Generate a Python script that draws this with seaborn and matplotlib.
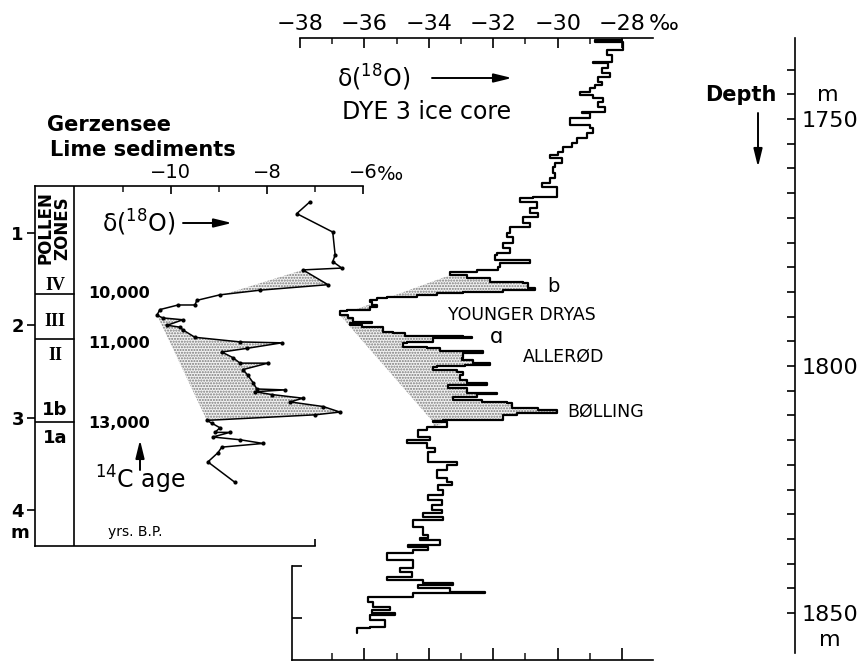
import numpy as np
import matplotlib
matplotlib.use("Agg")
import matplotlib.pyplot as plt
from matplotlib.ticker import FixedLocator
import seaborn as sns

sns.set_theme(style="white")
plt.rcParams["font.family"] = ["DejaVu Sans"]
plt.rcParams["mathtext.default"] = "regular"
plt.rcParams["hatch.linewidth"] = 1.0
plt.rcParams["text.color"] = "black"

W, H = 866, 662

# Gerzensee lime sediments: depth (m) and d18O (permil)
gerz_depth = [0.66, 0.79, 0.99, 1.24, 1.31, 1.38, 1.40, 1.56, 1.62, 1.67, 1.73, 1.78, 1.78,
              1.83, 1.89, 1.92, 1.94, 2.00, 2.02, 2.05, 2.13, 2.18, 2.19, 2.25, 2.29, 2.35,
              2.41, 2.41, 2.48, 2.54, 2.62, 2.69, 2.70, 2.72, 2.75, 2.79, 2.83, 2.88, 2.94,
              2.97, 3.03, 3.06, 3.11, 3.16, 3.16, 3.21, 3.24, 3.28, 3.32, 3.38, 3.48, 3.70]
gerz_d18o = [-7.10, -7.38, -6.63, -6.58, -6.63, -6.44, -7.25, -6.73, -8.15, -8.98, -9.46, -9.50, -9.85,
             -10.23, -10.29, -10.17, -9.75, -10.08, -9.81, -9.75, -9.50, -8.56, -7.69, -8.42, -8.94, -8.71,
             -8.56, -7.98, -8.50, -8.40, -8.29, -8.21, -7.63, -8.25, -7.90, -7.25, -7.52, -6.83, -6.48,
             -7.00, -9.25, -9.15, -8.98, -9.08, -8.77, -9.13, -8.56, -8.08, -8.94, -9.02, -9.23, -8.67]
# straight reference line through the Younger Dryas minimum (shading)
gerz_base_depth = [1.40, 1.89, 3.03]
gerz_base_d18o = [-7.25, -10.29, -9.25]

# DYE 3 ice core: depth (m) and d18O (permil)
dye_depth = [1734.0, 1734.4, 1736.0, 1737.0, 1738.5, 1738.7, 1739.7, 1740.7, 1741.5, 1742.5,
             1743.1, 1743.7, 1744.5, 1745.1, 1745.7, 1746.6, 1747.6, 1748.6, 1748.8, 1749.8,
             1751.2, 1751.8, 1752.8, 1753.8, 1754.9, 1755.7, 1756.7, 1757.3, 1757.9, 1758.9,
             1759.7, 1760.9, 1761.9, 1763.0, 1763.8, 1765.8, 1766.0, 1766.8, 1768.0, 1769.0,
             1769.8, 1771.1, 1771.9, 1773.1, 1773.9, 1775.1, 1776.1, 1777.1, 1777.5, 1778.5,
             1779.1, 1780.0, 1780.6, 1781.0, 1781.6, 1782.2, 1783.0, 1783.2, 1784.2, 1784.6,
             1785.0, 1785.2, 1785.6, 1786.0, 1786.2, 1786.6, 1787.0, 1787.7, 1788.1, 1788.7,
             1788.9, 1789.7, 1790.3, 1791.1, 1791.3, 1791.7, 1792.1, 1793.1, 1793.3, 1793.9,
             1794.1, 1794.3, 1795.1, 1795.3, 1796.2, 1796.4, 1797.0, 1797.4, 1798.4, 1798.8,
             1799.4, 1799.8, 1800.0, 1800.2, 1800.8, 1801.2, 1801.8, 1802.8, 1803.4, 1803.8,
             1804.5, 1805.5, 1805.7, 1806.3, 1806.9, 1807.3, 1807.5, 1808.5, 1808.9, 1809.5,
             1809.9, 1810.9, 1811.1, 1811.3, 1812.3, 1813.0, 1814.4, 1815.0, 1815.6, 1816.6,
             1817.4, 1819.4, 1820.0, 1821.1, 1822.7, 1823.5, 1824.1, 1825.1, 1826.1, 1827.1,
             1828.1, 1829.1, 1829.8, 1830.6, 1831.2, 1832.6, 1834.2, 1834.8, 1835.2, 1836.2,
             1836.6, 1837.2, 1837.9, 1839.3, 1840.9, 1841.7, 1842.7, 1843.3, 1843.9, 1844.3,
             1844.9, 1845.7, 1846.0, 1846.8, 1847.8, 1848.8, 1849.4, 1850.0, 1850.4, 1851.4,
             1852.8, 1853.0, 1854.0]
dye_d18o = [-28.00, -28.84, -27.97, -28.47, -28.31, -28.90, -28.43, -28.62, -28.37, -28.75,
            -28.62, -28.84, -28.99, -29.30, -28.90, -28.59, -28.75, -28.53, -29.24, -28.99,
            -29.61, -28.99, -28.90, -29.09, -29.40, -29.55, -29.83, -29.99, -30.24, -29.86,
            -30.08, -30.14, -30.08, -30.24, -30.48, -30.02, -30.76, -31.17, -30.64, -30.86,
            -30.61, -31.07, -30.86, -31.48, -31.57, -31.39, -31.70, -31.48, -31.88, -31.94,
            -30.86, -31.79, -31.85, -32.50, -33.34, -32.81, -32.10, -31.07, -30.92, -30.70,
            -31.70, -32.94, -33.75, -34.37, -35.30, -35.61, -35.83, -35.76, -35.61, -35.83,
            -36.54, -36.76, -36.51, -36.35, -35.76, -36.45, -36.07, -35.42, -35.11, -34.74,
            -32.94, -32.66, -33.87, -34.68, -34.80, -34.06, -33.65, -32.32, -32.94, -32.97,
            -32.63, -32.10, -32.88, -33.75, -33.87, -33.12, -32.94, -33.03, -32.81, -32.19,
            -33.40, -32.81, -31.88, -32.50, -33.25, -32.35, -31.57, -31.42, -30.61, -30.02,
            -31.26, -31.70, -33.56, -33.87, -33.43, -34.06, -34.34, -33.96, -34.68, -34.06,
            -33.81, -34.02, -33.12, -33.43, -33.75, -33.43, -33.28, -33.71, -33.56, -34.02,
            -33.59, -33.90, -33.59, -34.18, -33.56, -34.49, -34.18, -34.02, -34.27, -33.65,
            -34.65, -34.02, -34.49, -35.30, -34.49, -34.89, -34.52, -35.30, -34.18, -33.25,
            -34.34, -33.34, -32.25, -34.49, -35.89, -35.73, -35.20, -35.76, -35.05, -35.83,
            -35.36, -35.83, -36.23]
dye_base_depth = [1781.6, 1789.7, 1811.3]
dye_base_d18o = [-33.34, -36.76, -33.87]

# pollen zones (Gerzensee depth, m)
pollen_bounds = [1.66, 2.15, 3.05]
pollen_zones = ["IV", "III", "II", "1b", "1a"]
age_labels = ["10,000", "11,000", "13,000"]


def rect(x0, y0, x1, y1):
    return [x0 / W, 1 - y1 / H, (x1 - x0) / W, (y1 - y0) / H]


fig = plt.figure(figsize=(W / 100, H / 100), dpi=100)
fig.patch.set_facecolor("white")

stipple = dict(facecolor="#f2f2f2", edgecolor="#7a7a7a", hatch="......", linewidth=0)

# ---------------- DYE 3 ice core ----------------
axI = fig.add_axes(rect(292, 38, 653, 660))
axI.patch.set_alpha(0)
d = np.array(dye_depth)
v = np.array(dye_d18o)
sx = np.repeat(v, 2)[1:]
sy = np.repeat(d, 2)[:-1]
base = np.interp(sy, dye_base_depth, dye_base_d18o)
inside = (sy >= dye_base_depth[0]) & (sy <= dye_base_depth[-1]) & (sx > base)
axI.fill_betweenx(sy, base, sx, where=inside, interpolate=True, **stipple)
sns.lineplot(x=sx, y=sy, sort=False, estimator=None, color="black", lw=1.6, ax=axI)
axI.set_xlim(-38.25, -27.04)
axI.set_ylim(1859.5, 1733.6)
axI.set_xlabel("")
axI.set_ylabel("")
for s in axI.spines.values():
    s.set_color("black")
    s.set_linewidth(1.2)
axI.spines["right"].set_visible(False)
axI.spines["top"].set_bounds(-38, -27.04)
axI.spines["left"].set_bounds(1840.5, 1859.5)
axI.xaxis.set_ticks_position("top")
axI.set_xticks(np.arange(-38, -27, 2))
axI.set_xticklabels(["\u2212%d" % abs(t) for t in range(-38, -27, 2)])
axI.xaxis.set_minor_locator(FixedLocator(np.arange(-37, -26, 2)))
axI.tick_params(axis="x", which="major", direction="in", length=7, width=1.2,
                labelsize=16, pad=3, colors="black")
axI.tick_params(axis="x", which="minor", direction="in", length=4, width=1.2, top=True)
axI.set_yticks([1840.5, 1851])
axI.set_yticklabels([])
axI.tick_params(axis="y", direction="in", length=7, width=1.2, left=True, colors="black")
sec = axI.secondary_xaxis("bottom")
sec.set_xticks(np.arange(-36, -27, 2))
sec.xaxis.set_minor_locator(FixedLocator(np.arange(-37, -26, 2)))
sec.tick_params(axis="x", which="major", direction="in", length=9, width=1.2,
                labelbottom=False, colors="black")
sec.tick_params(axis="x", which="minor", direction="in", length=5, width=1.2, bottom=True)
sec.spines["bottom"].set_visible(False)

# right depth scale
axD = fig.add_axes(rect(653, 38, 795, 660))
axD.patch.set_alpha(0)
axD.set_ylim(1859.5, 1733.6)
for k, s in axD.spines.items():
    s.set_visible(k == "right")
axD.spines["right"].set_color("black")
axD.spines["right"].set_linewidth(1.2)
axD.spines["right"].set_bounds(1733.6, 1858.1)
axD.set_xticks([])
axD.yaxis.tick_right()
depth_ticks = list(range(1740, 1851, 5))
axD.set_yticks(depth_ticks)
axD.set_yticklabels([str(t) if t % 50 == 0 else "" for t in depth_ticks])
axD.tick_params(axis="y", direction="in", length=6, width=1.2, labelsize=16,
                pad=5, colors="black", right=True)

# ---------------- Gerzensee ----------------
axG = fig.add_axes(rect(35, 186, 363, 546))
axG.patch.set_alpha(0)
gd = np.array(gerz_depth)
gv = np.array(gerz_d18o)
gbase = np.interp(gd, gerz_base_depth, gerz_base_d18o)
ginside = (gd >= gerz_base_depth[0]) & (gd <= gerz_base_depth[-1]) & (gv > gbase)
axG.fill_betweenx(gd, gbase, gv, where=ginside, interpolate=True, **stipple)
sns.lineplot(x=gv, y=gd, sort=False, estimator=None, color="black", lw=1.1,
             marker="o", markersize=3, markeredgewidth=0, ax=axG)
axG.set_xlim(-12.83, -6.0)
axG.set_ylim(4.391, 0.491)
axG.set_xlabel("")
axG.set_ylabel("")
for s in axG.spines.values():
    s.set_color("black")
    s.set_linewidth(1.2)
axG.spines["right"].set_visible(False)
axG.spines["bottom"].set_bounds(-12.83, -7.0)
axG.xaxis.set_ticks_position("top")
axG.set_xticks([-10, -8, -6])
axG.set_xticklabels(["\u221210", "\u22128", "\u22126"])
axG.xaxis.set_minor_locator(FixedLocator([-11, -9, -7]))
axG.tick_params(axis="x", which="major", direction="in", length=6, width=1.2,
                labelsize=14, pad=3, colors="black")
axG.tick_params(axis="x", which="minor", direction="in", length=4, width=1.2, top=True)
axG.set_yticks([1, 2, 3, 4])
axG.tick_params(axis="y", direction="out", length=6, width=1.2, labelsize=13,
                pad=2, colors="black", left=True)
for lbl in axG.get_yticklabels():
    lbl.set_fontweight("bold")
gsec = axG.secondary_xaxis("bottom")
gsec.set_xticks([-7])
gsec.tick_params(axis="x", direction="in", length=5, width=1.2, labelbottom=False, colors="black")
gsec.spines["bottom"].set_visible(False)

# pollen zone column
col_edge = -12.02
axG.axvline(col_edge, color="black", lw=1.2)
col_frac = (col_edge + 12.83) / 6.83
for b in pollen_bounds:
    axG.axhline(b, xmin=0, xmax=col_frac, color="black", lw=1.2)

# ---------------- text overlay (pixel coordinates) ----------------
axO = fig.add_axes([0, 0, 1, 1])
axO.set_xlim(0, W)
axO.set_ylim(H, 0)
axO.axis("off")
axO.patch.set_alpha(0)

arrow = dict(arrowstyle="-|>,head_length=0.9,head_width=0.22", color="black", lw=1.4,
             shrinkA=0, shrinkB=0)

axO.text(47, 125, "Gerzensee", fontsize=15, fontweight="bold", va="center")
axO.text(50, 150, "Lime sediments", fontsize=15, fontweight="bold", va="center")
axO.text(377, 174, "\u2030", fontsize=14, va="center")
axO.text(649, 24, "\u2030", fontsize=16, va="center")

axO.text(337, 78, r"δ($^{18}$O)", fontsize=17, va="center")
axO.annotate("", xy=(512, 78), xytext=(432, 78), arrowprops=arrow)
axO.text(342, 112, "DYE 3 ice core", fontsize=17, va="center")

axO.text(102, 223, r"δ($^{18}$O)", fontsize=17, va="center")
axO.annotate("", xy=(232, 223), xytext=(183, 223), arrowprops=arrow)

axO.text(705, 95, "Depth", fontsize=15, fontweight="bold", va="center")
axO.annotate("", xy=(758, 167), xytext=(758, 113), arrowprops=arrow)
axO.text(828, 95, "m", fontsize=16, va="center", ha="center")
axO.text(830, 640, "m", fontsize=16, va="center", ha="center")

axO.text(547, 287, "b", fontsize=14, va="center")
axO.text(448, 315, "YOUNGER DRYAS", fontsize=12.5, va="center")
axO.text(490, 337, "\u0251", fontsize=15, va="center")
axO.text(523, 357, "ALLERØD", fontsize=12.5, va="center")
axO.text(567, 412, "BØLLING", fontsize=12.5, va="center")

for lab, y in zip(age_labels, [293, 343, 423]):
    axO.text(88, y, lab, fontsize=11.5, fontweight="bold", va="center")
axO.annotate("", xy=(140, 440), xytext=(140, 470), arrowprops=arrow)
axO.text(95, 480, r"$^{14}$C age", fontsize=17, va="center")
axO.text(108, 532, "yrs. B.P.", fontsize=10, va="center")
axO.text(20, 533, "m", fontsize=13, fontweight="bold", va="center", ha="center")

axO.text(54, 228, "POLLEN\nZONES", fontsize=12, fontweight="bold", rotation=90,
         va="center", ha="center", linespacing=0.9)
for lab, y in zip(pollen_zones, [285, 322, 355, 410, 438]):
    fam = ["Liberation Serif", "DejaVu Serif"] if lab.startswith("I") else ["DejaVu Sans"]
    axO.text(55, y, lab, fontsize=13, fontweight="bold", va="center", ha="center", family=fam)

fig.savefig("out.png", dpi=100)
